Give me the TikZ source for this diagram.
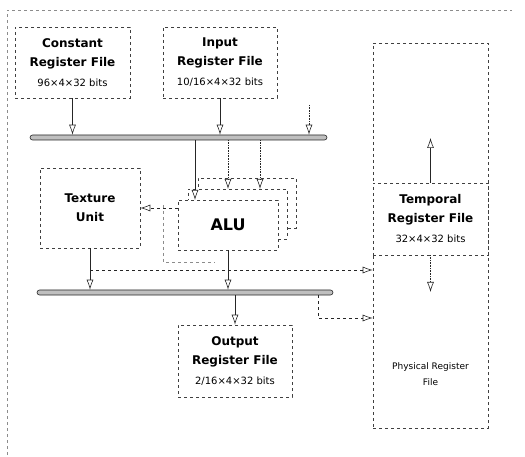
\documentclass[tikz,border=0pt]{standalone}
\usepackage{fontspec}
\setmainfont{DejaVu Sans}
\usepackage{tikz}
\usetikzlibrary{arrows.meta}

\tikzset{
  regbox/.style={draw=black!75, dashed, line width=0.6pt, fill=white, align=center, inner sep=0pt,
    font=\bfseries\fontsize{12}{19}\selectfont},
  bus/.style={draw=black!85, fill=black!25, rounded corners=2.5pt, minimum height=5pt, inner sep=0pt, line width=0.6pt},
  link/.style={draw=black!85, line width=0.6pt, -{Latex[open,length=10pt,width=7pt]}},
  faint/.style={draw=black!45, dashed, line width=0.5pt},
}
\newcommand{\bitsize}[1]{{\mdseries\fontsize{10}{12}\selectfont #1}}

\begin{document}
\begin{tikzpicture}[x=1pt, y=-1pt]
    \useasboundingbox (0,0) rectangle (525,457);

    % Outer frame
    \draw[faint] (7,455) -- (7,10) -- (512,10);

    % Physical register file
    \node[regbox, minimum width=115, minimum height=385] (prf) at (430.5,235.5) {};
    \node[align=center, font=\fontsize{9}{16}\selectfont] (prflbl) at (430.5,374) {Physical Register\\File};

    % Register files
    \node[regbox, minimum width=115, minimum height=71] (crf) at (72.5,62.5)
        {Constant\\Register File\\[1pt]\bitsize{96×4×32 bits}};
    \node[regbox, minimum width=114, minimum height=71] (irf) at (220,62.5)
        {Input\\Register File\\[1pt]\bitsize{10/16×4×32 bits}};
    \node[regbox, minimum width=115, minimum height=72] (trf) at (430.5,219)
        {Temporal\\Register File\\[1pt]\bitsize{32×4×32 bits}};
    \node[regbox, minimum width=114, minimum height=72] (orf) at (235,361)
        {Output\\Register File\\[1pt]\bitsize{2/16×4×32 bits}};

    % Texture unit and ALU stack
    \node[regbox, minimum width=100, minimum height=80] (tex) at (90,208) {Texture\\Unit};
    \node[regbox, minimum width=98, minimum height=50] (alu3) at (247,203) {};
    \node[regbox, minimum width=99, minimum height=50] (alu2) at (237.5,214) {};
    \node[regbox, minimum width=100, minimum height=50, font=\bfseries\fontsize{16}{19}\selectfont] (alu) at (228,225) {ALU};

    % Buses
    \node[bus, minimum width=297] (bus1) at (178.5,137.5) {};
    \node[bus, minimum width=296] (bus2) at (185,292.5) {};

    % Into bus 1
    \coordinate (tin) at (309,105);
    \draw[link] (crf.south) -- (crf.south |- bus1.north);
    \draw[link] (irf.south) -- (irf.south |- bus1.north);
    \draw[link, densely dotted] (tin) -- (tin |- bus1.north);
    \coordinate (tup) at (430.5,138);
    \draw[link] (trf.north) -- (tup);

    % Bus 1 to the ALUs
    \draw[link] (bus1.south -| 195,0) -- (195,200);
    \draw[link, densely dotted] (bus1.south -| 228,0) -- (228,189);
    \draw[link, densely dotted] (bus1.south -| 260,0) -- (260,189);

    % ALU to texture unit
    \draw[link, dashed] (alu.west |- tex.east) -- (tex.east);
    \draw[faint] (163,205) -- (163,262) -- (215,262);

    % Into bus 2
    \draw[link] (tex.south) -- (tex.south |- bus2.north);
    \draw[link] (alu.south) -- (alu.south |- bus2.north);
    \coordinate (tap) at (90,270);
    \draw[link, dashed] (tap) -- (prf.west |- tap);

    % Out of bus 2
    \draw[link] (bus2.south -| orf.north) -- (orf.north);
    \coordinate (bend) at (318,318);
    \draw[link, dashed] (bus2.south -| bend) |- (prf.west |- bend);

    % Temporal register file down
    \coordinate (tdown) at (430.5,292);
    \draw[link, densely dotted] (trf.south) -- (tdown);
\end{tikzpicture}
\end{document}
